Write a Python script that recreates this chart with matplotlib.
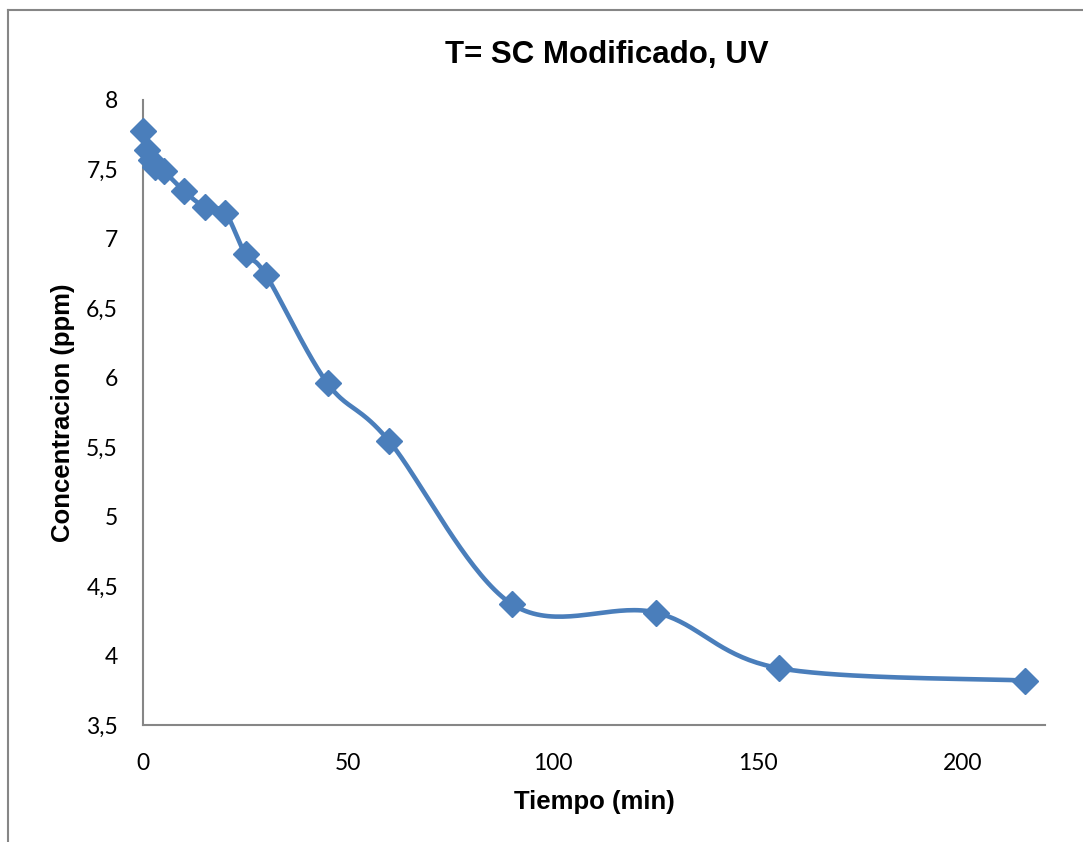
import numpy as np
import matplotlib.pyplot as plt
from matplotlib.lines import Line2D

# tiempo de tratamiento (min) y concentracion medida (ppm)
tiempo = [0, 1, 2, 3, 5, 10, 15, 20, 25, 30, 45, 60, 90, 125, 155, 215]
conc = [7.78, 7.64, 7.57, 7.52, 7.49, 7.345, 7.23, 7.19, 6.89, 6.74,
        5.96, 5.545, 4.37, 4.31, 3.91, 3.82]

x_ticks = [0, 50, 100, 150, 200]
y_ticks = [3.5, 4, 4.5, 5, 5.5, 6, 6.5, 7, 7.5, 8]
y_labels = [f"{v:g}".replace('.', ',') for v in y_ticks]

color = '#4A7EBB'
gray = '#868686'


def suavizar(x, y, n=40):
    # curva suavizada tipo hoja de calculo (bezier con vecinos)
    x = np.asarray(x, float)
    y = np.asarray(y, float)
    px = np.concatenate([[x[0]], x, [x[-1]]])
    py = np.concatenate([[y[0]], y, [y[-1]]])
    xs, ys = [], []
    t = np.linspace(0, 1, n)
    for i in range(1, len(px) - 2):
        p0 = np.array([px[i], py[i]])
        p3 = np.array([px[i + 1], py[i + 1]])
        p1 = p0 + (np.array([px[i + 1], py[i + 1]]) - np.array([px[i - 1], py[i - 1]])) / 6
        p2 = p3 - (np.array([px[i + 2], py[i + 2]]) - np.array([px[i], py[i]])) / 6
        b = ((1 - t) ** 3)[:, None] * p0 + (3 * (1 - t) ** 2 * t)[:, None] * p1 \
            + (3 * (1 - t) * t ** 2)[:, None] * p2 + (t ** 3)[:, None] * p3
        xs.extend(b[:, 0])
        ys.extend(b[:, 1])
    return np.array(xs), np.array(ys)


fig = plt.figure(figsize=(10.83, 8.42), dpi=100)
ax = fig.add_axes([143 / 1083, 1 - 725 / 842, (1045 - 143) / 1083, (725 - 100) / 842])

sx, sy = suavizar(tiempo, conc)
ax.plot(sx, sy, color=color, lw=3.3, solid_capstyle='round', zorder=2, clip_on=False)
ax.plot(tiempo, conc, linestyle='none', marker='D', ms=13.5, color=color,
        markeredgecolor=color, zorder=3, clip_on=False)

ax.set_xlim(0, 220)
ax.set_ylim(3.5, 8)
ax.set_xticks(x_ticks)
ax.set_yticks(y_ticks)
ax.set_yticklabels(y_labels)
ax.tick_params(length=0, labelsize=16.5)
ax.tick_params(axis='y', pad=18)
ax.tick_params(axis='x', pad=20)
for lab in ax.get_xticklabels() + ax.get_yticklabels():
    lab.set_fontfamily('Lato')

for s in ['top', 'right']:
    ax.spines[s].set_visible(False)
for s in ['left', 'bottom']:
    ax.spines[s].set_color(gray)
    ax.spines[s].set_linewidth(1.5)

ax.set_xlabel('Tiempo (min)', fontsize=18.5, fontweight='bold',
              fontfamily='Liberation Sans', labelpad=12)
ax.set_ylabel('Concentracion (ppm)', fontsize=18.5, fontweight='bold',
              fontfamily='Liberation Sans', labelpad=8)
fig.text(607 / 1083, 1 - 55 / 842, 'T= SC Modificado, UV', fontsize=22.5,
         fontweight='bold', fontfamily='Liberation Sans', ha='center', va='center')

# marco del grafico
fig.add_artist(Line2D([8 / 1083, 1.0], [1 - 10 / 842, 1 - 10 / 842], color=gray, lw=1.5))
fig.add_artist(Line2D([8 / 1083, 8 / 1083], [0, 1 - 10 / 842], color=gray, lw=1.5))

fig.savefig('out.png', dpi=100)
